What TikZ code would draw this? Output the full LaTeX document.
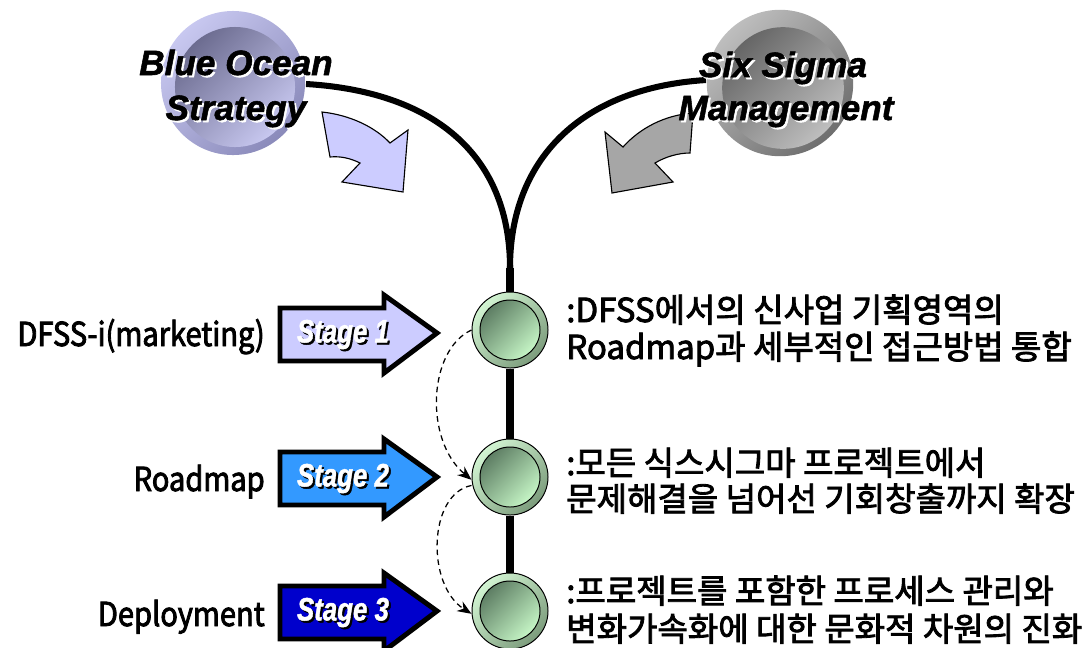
\documentclass[tikz,border=0pt]{standalone}
\usepackage{fontspec}
\usetikzlibrary{arrows.meta}
\newfontfamily\krfont{Noto Sans CJK KR}[AutoFakeBold=2.5]
\newfontfamily\lblfont{Noto Sans CJK KR}[AutoFakeBold=2.5,FakeStretch=0.88]
\newfontfamily\hdfont{Liberation Sans}[BoldItalicFeatures={FakeBold=1.5}]
\definecolor{stone}{HTML}{CCCCFF}
\definecolor{sttwo}{HTML}{3399FF}
\definecolor{stthree}{HTML}{0000CC}
\definecolor{lavlight}{HTML}{C8C8F0}
\definecolor{lavdark}{HTML}{8A8ABA}
\definecolor{lavdeep}{HTML}{6C6C90}
\definecolor{greylight}{HTML}{BEBEBE}
\definecolor{greydark}{HTML}{6E6E6E}
\definecolor{greydeep}{HTML}{666666}
\definecolor{arrowgrey}{HTML}{A6A6A6}
\definecolor{grnlight}{HTML}{D2F4D2}
\definecolor{grndark}{HTML}{7C9C7C}
\definecolor{grndeep}{HTML}{5E7E64}
\definecolor{grnpale}{HTML}{C6F6C6}
\begin{document}
\begin{tikzpicture}[x=0.025cm,y=-0.025cm,
  trunk/.style={line width=4.3pt},
  spine/.style={line width=5pt},
  stagebox/.style={draw=black,line width=3.5pt,miter limit=10},
  stagetext/.style={font=\hdfont\fontsize{23}{25}\selectfont\bfseries\itshape,text=white,inner sep=0pt},
  stageshade/.style={stagetext,text=black},
  bendarrow/.style={draw=black,line width=0.8pt},
  ringouter/.style={circle,draw=black,line width=0.7pt,minimum size=1.9cm,inner sep=0pt,
    top color=grnlight,bottom color=grndark,shading angle=45},
  ringinner/.style={circle,draw=black,line width=0.7pt,minimum size=1.5cm,inner sep=0pt,
    top color=grndeep,bottom color=grnpale,shading angle=45},
  headtext/.style={font=\hdfont\fontsize{25}{28}\selectfont\bfseries\itshape,inner sep=0pt,anchor=base},
  headglow/.style={headtext,text=white},
  sidelabel/.style={font=\lblfont\fontsize{23.5}{26}\selectfont\bfseries,inner sep=0pt,anchor=base east},
  note/.style={font=\krfont\fontsize{23.5}{26}\selectfont\bfseries,inner sep=0pt,anchor=base west},
  hop/.style={dash pattern=on 4pt off 3pt,line width=0.9pt,-{Stealth[length=10pt,width=8pt]}}]
\useasboundingbox (0,0) rectangle (1092,647);

% the two source spheres
\shade[top color=lavlight,bottom color=lavdark,shading angle=45] (233,83) circle[radius=1.8cm];
\shade[top color=lavdeep,bottom color=lavlight,shading angle=45] (235,87) circle[radius=1.5cm];
\shade[top color=greylight,bottom color=greydark,shading angle=45] (780,83) circle[radius=1.83cm];
\shade[top color=greydeep,bottom color=greylight,shading angle=45] (783,88) circle[radius=1.52cm];

% curved feed arrows
\filldraw[bendarrow,fill=stone] (322,112) .. controls (350,115) and (375,127) .. (390,143)
  -- (408,130) -- (403,192) -- (342,182) -- (360,163)
  .. controls (350,158) and (340,156) .. (330,157) -- cycle;
\filldraw[bendarrow,fill=arrowgrey] (693,113) .. controls (665,115) and (640,128) .. (623,147)
  -- (605,132) -- (612,193) -- (673,182) -- (655,163)
  .. controls (665,157) and (678,153) .. (690,153) -- cycle;

% the joining trunk
\coordinate (join) at (510,268);
\coordinate (lstart) at (306,84);
\coordinate (rstart) at (706,80);
\coordinate (bottom) at (510,660);
\draw[trunk] (lstart) .. controls (440,92) and (510,160) .. (join);
\draw[trunk] (rstart) .. controls (580,88) and (510,160) .. (join);

% stage milestones
\node[ringouter] (n1) at (510,330) {};
\node[ringouter] (n2) at (510,477) {};
\node[ringouter] (n3) at (510,611) {};
\draw[spine] (join) -- (n1.north);
\draw[spine] (n1.south) -- (n2.north);
\draw[spine] (n2.south) -- (n3.north);
\draw[spine] (n3.south) -- (bottom);
\node[ringinner] (i1) at (n1) {};
\node[ringinner] (i2) at (n2) {};
\node[ringinner] (i3) at (n3) {};

% dashed hand-over arrows
\draw[hop] (n1.west) .. controls (428,350) and (424,440) .. ([yshift=-2pt]n2.west);
\draw[hop] ([yshift=-6pt]n2.west) .. controls (428,494) and (426,585) .. ([yshift=-2pt]n3.west);

% stage block arrows
\foreach \c/\col/\k in {333/stone/1,477/sttwo/2,611/stthree/3}{
  \filldraw[stagebox,fill=\col] (280,\c-25) -- (384,\c-25) -- (384,\c-38) -- (437,\c)
    -- (384,\c+40) -- (384,\c+28) -- (280,\c+28) -- cycle;
  \node[stageshade] (sh\k) at (345,\c+3.5) {\scalebox{0.8}[1]{Stage \k}};
  \node[stagetext] (stg\k) at (343,\c+1.5) {\scalebox{0.8}[1]{Stage \k}};
}

% titles on the spheres, each over a light offset copy
\node[headglow] (bo1g) at (238,77) {Blue Ocean};
\node[headtext] (bo1) at (236,75) {Blue Ocean};
\node[headglow] (bo2g) at (238,122) {Strategy};
\node[headtext] (bo2) at (236,120) {Strategy};
\node[headglow] (ss1g) at (785,79) {Six Sigma};
\node[headtext] (ss1) at (783,77) {Six Sigma};
\node[headglow] (ss2g) at (788,122) {Management};
\node[headtext] (ss2) at (786,120) {Management};

% stage names
\node[sidelabel] (l1) at (265,346) {DFSS-i(marketing)};
\node[sidelabel] (l2) at (265,491) {Roadmap};
\node[sidelabel] (l3) at (265,626) {Deployment};

% stage descriptions
\node[note] (d1a) at (566,322) {:DFSS에서의 신사업 기획영역의};
\node[note] (d1b) at (566,359) {Roadmap과 세부적인 접근방법 통합};
\node[note] (d2a) at (566,475) {:모든 식스시그마 프로젝트에서};
\node[note] (d2b) at (566,511) {문제해결을 넘어선 기회창출까지 확장};
\node[note] (d3a) at (566,603) {:프로젝트를 포함한 프로세스 관리와};
\node[note] (d3b) at (566,641) {변화가속화에 대한 문화적 차원의 진화};
\end{tikzpicture}
\end{document}
